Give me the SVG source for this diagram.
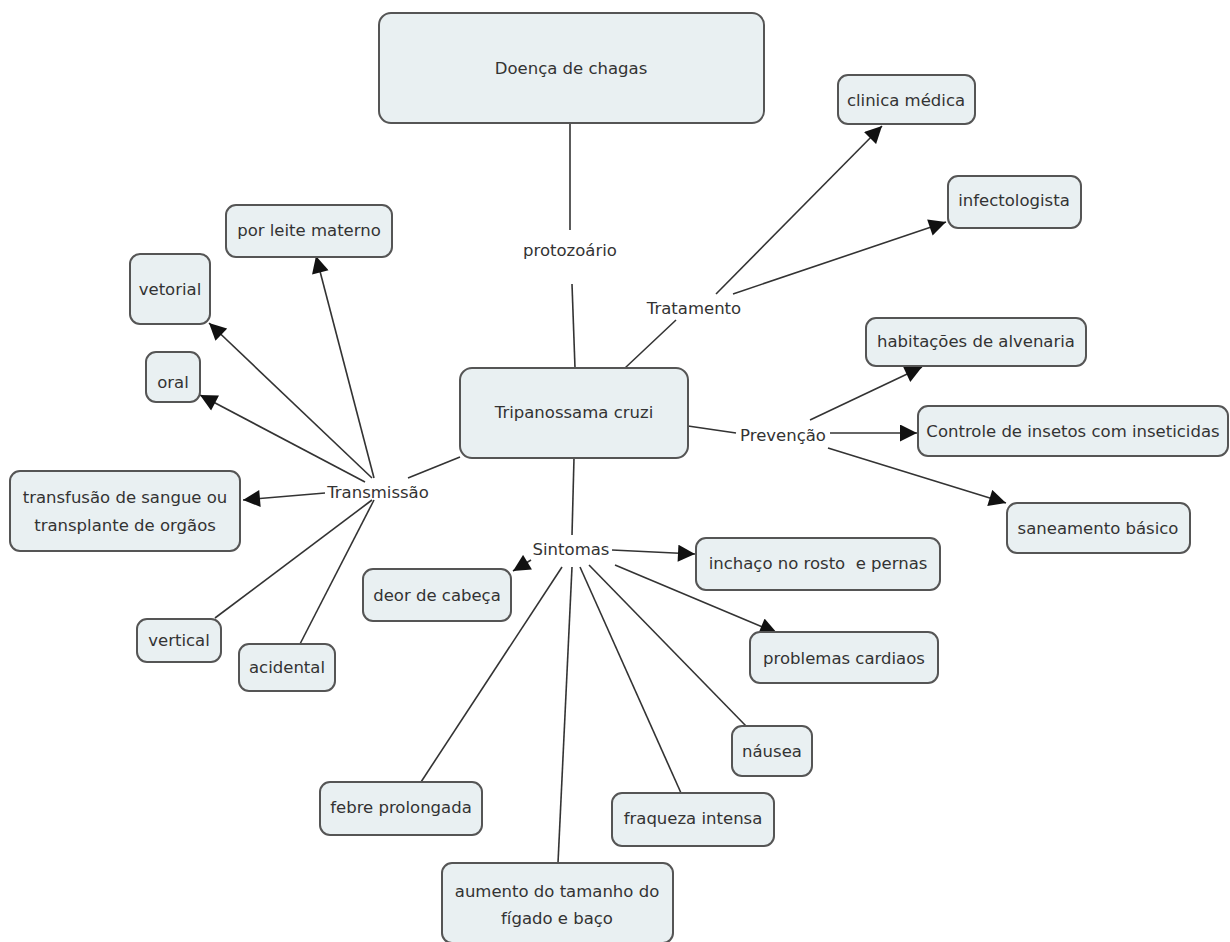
<svg xmlns="http://www.w3.org/2000/svg" width="1230" height="942" viewBox="0 0 1230 942">
<defs>
<marker id="arr" viewBox="0 0 10 10" refX="10" refY="5" markerWidth="18" markerHeight="17" markerUnits="userSpaceOnUse" orient="auto">
<path d="M0,0 L10,5 L0,10 z" fill="#111"/>
</marker>
<style>
.box{fill:#e9f0f2;stroke:#555;stroke-width:2}
.t{font-family:"DejaVu Sans",Verdana,sans-serif;font-size:16.5px;fill:#333;text-anchor:middle;dominant-baseline:central}
.c{stroke:#333;stroke-width:1.6;fill:none}
.a{stroke:#333;stroke-width:1.6;fill:none;marker-end:url(#arr)}
</style>
</defs>
<rect width="1230" height="942" fill="#fff"/>
<g id="connectors">
<line class="c" x1="570" y1="123" x2="570" y2="230"/>
<line class="c" x1="572" y1="284" x2="575" y2="368"/>
<line class="c" x1="625" y1="368" x2="676" y2="320"/>
<line class="a" x1="716" y1="294" x2="882" y2="126"/>
<line class="a" x1="733" y1="294" x2="946" y2="222"/>
<line class="c" x1="688" y1="426" x2="736" y2="433"/>
<line class="a" x1="810" y1="420" x2="922" y2="367"/>
<line class="a" x1="830" y1="433" x2="917" y2="433"/>
<line class="a" x1="828" y1="448" x2="1006" y2="503"/>
<line class="c" x1="574" y1="458" x2="572" y2="535"/>
<line class="a" x1="531" y1="560" x2="513" y2="571"/>
<line class="a" x1="612" y1="550" x2="695" y2="554"/>
<line class="a" x1="615" y1="565" x2="777" y2="633"/>
<line class="c" x1="562" y1="567" x2="421" y2="782"/>
<line class="c" x1="572" y1="567" x2="558" y2="863"/>
<line class="c" x1="580" y1="567" x2="681" y2="793"/>
<line class="c" x1="589" y1="565" x2="746" y2="726"/>
<line class="c" x1="460" y1="457" x2="408" y2="478"/>
<line class="a" x1="374" y1="478" x2="316" y2="256"/>
<line class="a" x1="372" y1="478" x2="209" y2="323"/>
<line class="a" x1="365" y1="482" x2="200" y2="395"/>
<line class="a" x1="325" y1="493" x2="243" y2="500"/>
<line class="c" x1="372" y1="500" x2="215" y2="618"/>
<line class="c" x1="374" y1="500" x2="300" y2="644"/>
</g>
<g id="doenca"><rect class="box" x="379" y="13" width="385" height="110" rx="12"/><text class="t" x="571" y="68">Doença de chagas</text></g>
<g id="tripanossama"><rect class="box" x="460" y="368" width="228" height="90" rx="12"/><text class="t" x="574" y="412">Tripanossama cruzi</text></g>
<g id="protozoario"><text class="t" x="570" y="250">protozoário</text></g>
<g id="tratamento"><text class="t" x="694" y="308">Tratamento</text></g>
<g id="prevencao"><text class="t" x="783" y="435">Prevenção</text></g>
<g id="sintomas"><text class="t" x="571" y="549">Sintomas</text></g>
<g id="transmissao"><text class="t" x="378" y="492">Transmissão</text></g>
<g id="clinica"><rect class="box" x="838" y="75" width="137" height="49" rx="10"/><text class="t" x="906" y="100">clinica médica</text></g>
<g id="infectologista"><rect class="box" x="948" y="176" width="133" height="52" rx="10"/><text class="t" x="1014" y="200">infectologista</text></g>
<g id="habitacoes"><rect class="box" x="866" y="318" width="220" height="48" rx="10"/><text class="t" x="976" y="341">habitações de alvenaria</text></g>
<g id="controle"><rect class="box" x="918" y="406" width="310" height="50" rx="10"/><text class="t" x="1073" y="431">Controle de insetos com inseticidas</text></g>
<g id="saneamento"><rect class="box" x="1007" y="503" width="183" height="50" rx="10"/><text class="t" x="1098" y="528">saneamento básico</text></g>
<g id="inchaco"><rect class="box" x="696" y="538" width="244" height="52" rx="10"/><text class="t" x="818" y="563" xml:space="preserve">inchaço no rosto  e pernas</text></g>
<g id="deor"><rect class="box" x="363" y="569" width="148" height="52" rx="10"/><text class="t" x="437" y="595">deor de cabeça</text></g>
<g id="problemas"><rect class="box" x="750" y="632" width="188" height="51" rx="10"/><text class="t" x="844" y="658">problemas cardiaos</text></g>
<g id="nausea"><rect class="box" x="732" y="726" width="80" height="50" rx="10"/><text class="t" x="772" y="751">náusea</text></g>
<g id="fraqueza"><rect class="box" x="612" y="793" width="162" height="53" rx="10"/><text class="t" x="693" y="818">fraqueza intensa</text></g>
<g id="febre"><rect class="box" x="320" y="782" width="162" height="53" rx="10"/><text class="t" x="401" y="807">febre prolongada</text></g>
<g id="aumento"><rect class="box" x="442" y="863" width="231" height="80" rx="10"/><text class="t" x="557" y="891">aumento do tamanho do</text><text class="t" x="557" y="918">fígado e baço</text></g>
<g id="leite"><rect class="box" x="226" y="205" width="166" height="52" rx="10"/><text class="t" x="309" y="230">por leite materno</text></g>
<g id="vetorial"><rect class="box" x="130" y="254" width="80" height="70" rx="10"/><text class="t" x="170" y="289">vetorial</text></g>
<g id="oral"><rect class="box" x="146" y="352" width="54" height="50" rx="10"/><text class="t" x="173" y="382">oral</text></g>
<g id="transfusao"><rect class="box" x="10" y="471" width="230" height="80" rx="10"/><text class="t" x="125" y="497">transfusão de sangue ou</text><text class="t" x="125" y="525">transplante de orgãos</text></g>
<g id="vertical"><rect class="box" x="137" y="619" width="84" height="43" rx="10"/><text class="t" x="179" y="640">vertical</text></g>
<g id="acidental"><rect class="box" x="239" y="644" width="96" height="47" rx="10"/><text class="t" x="287" y="667">acidental</text></g>
</svg>
